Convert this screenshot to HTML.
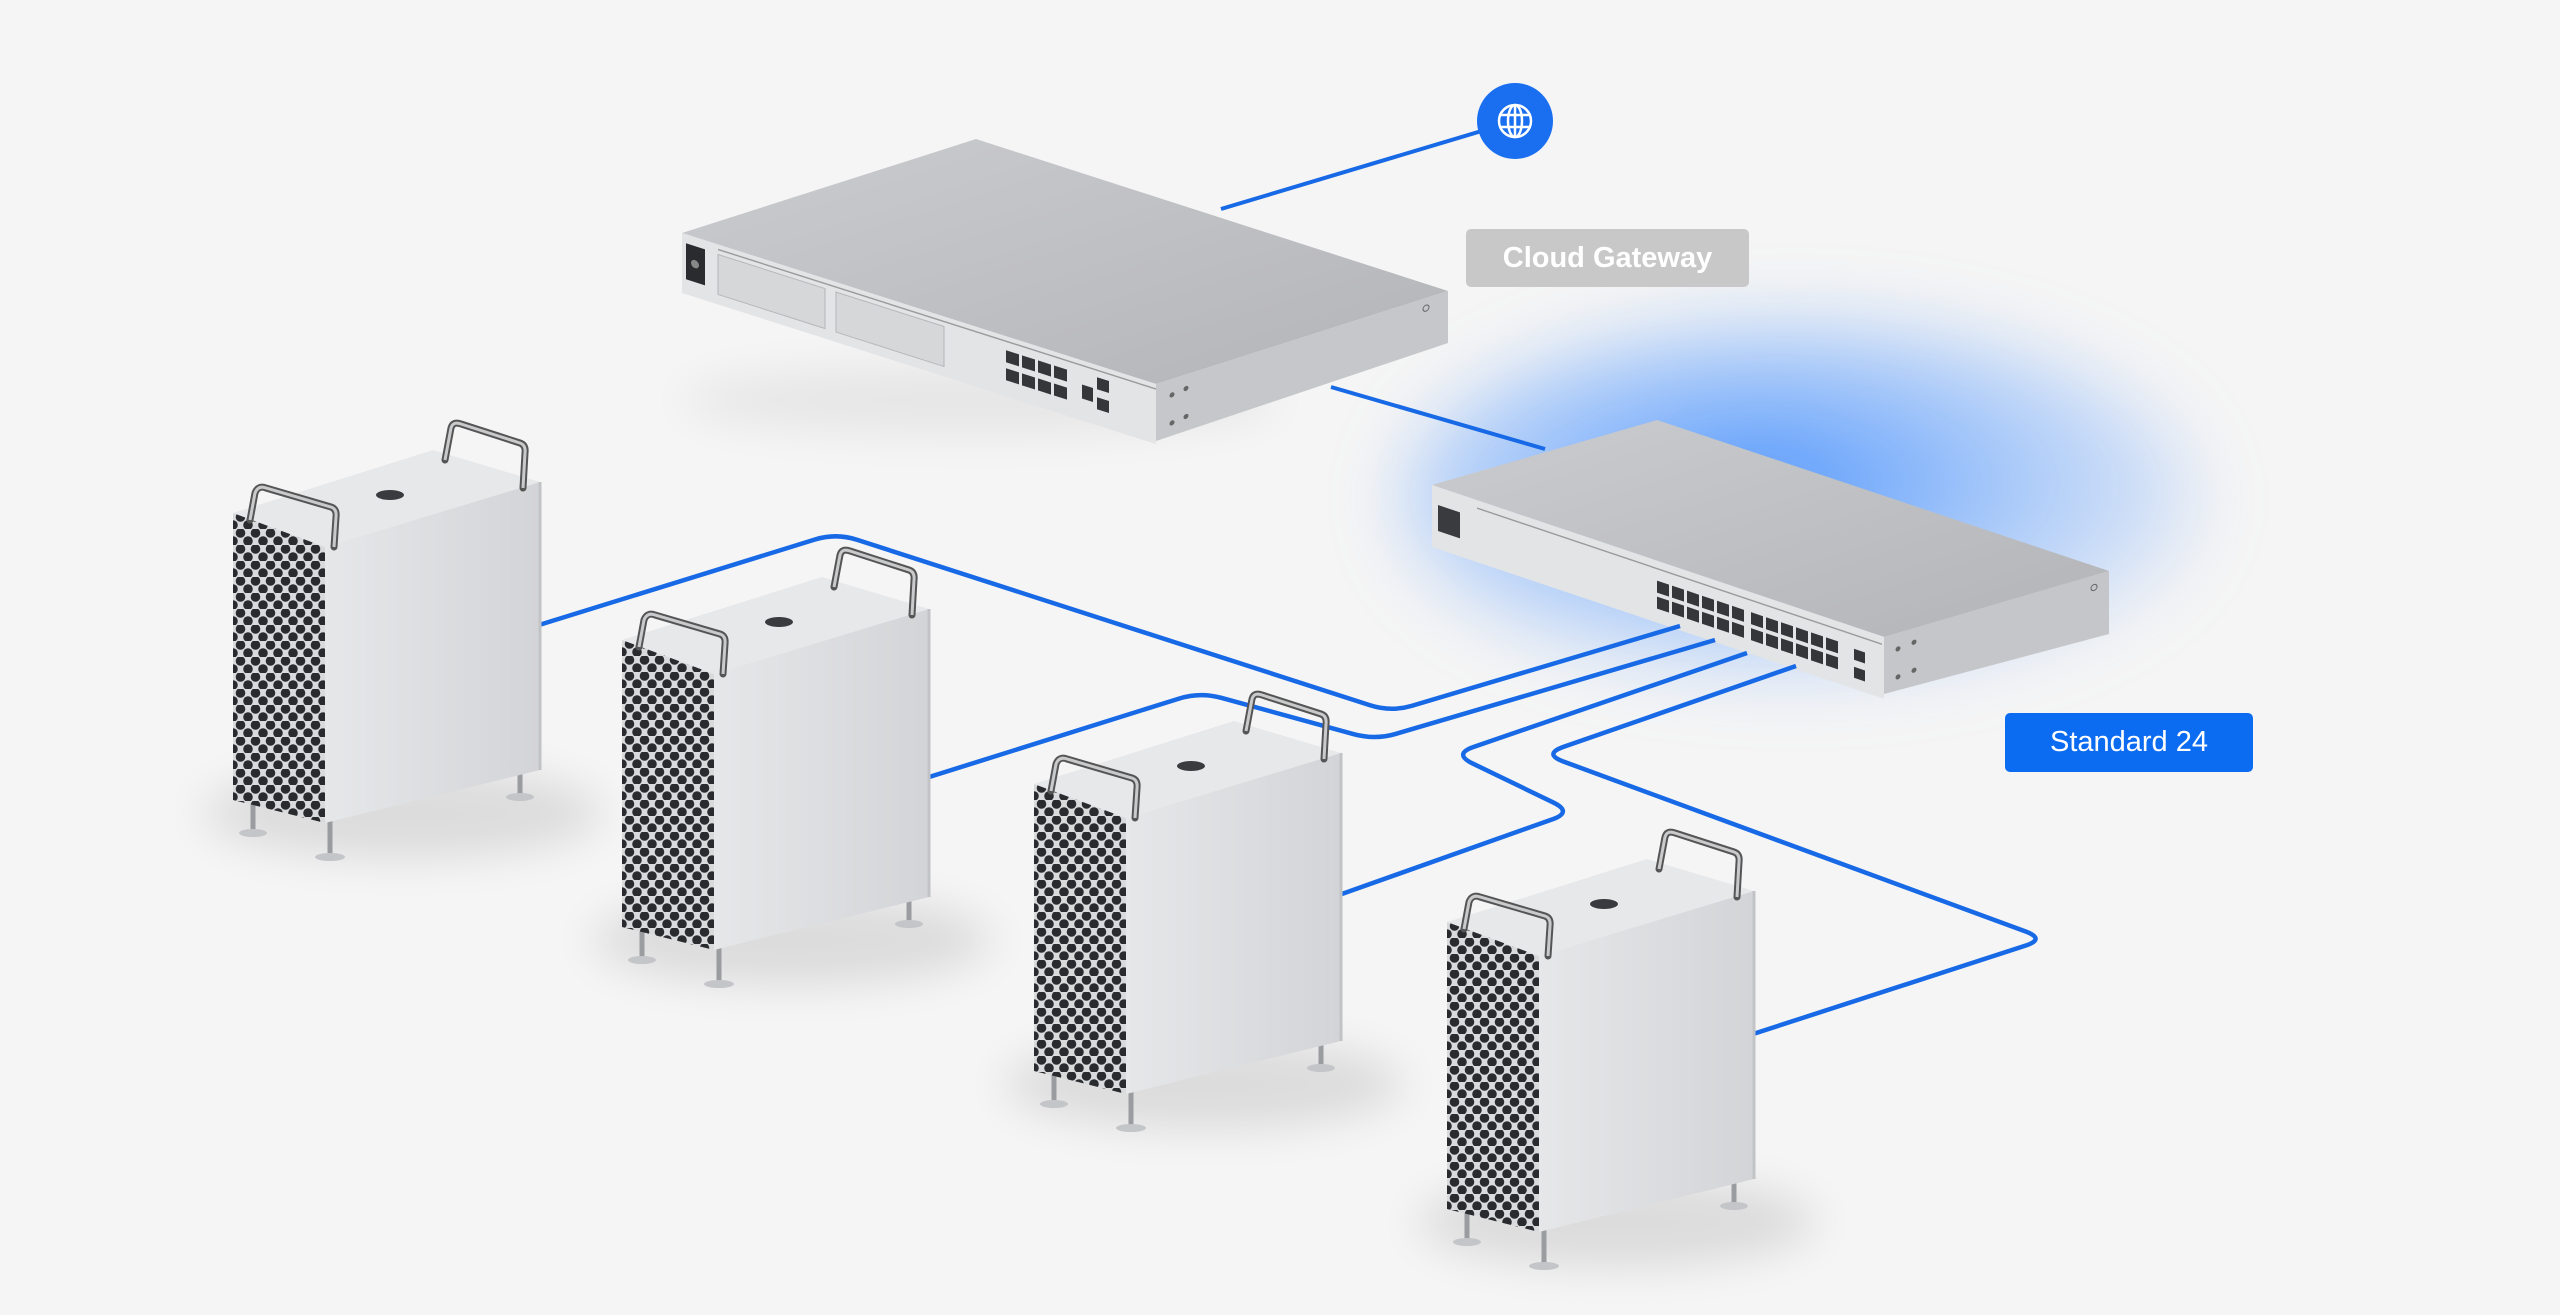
<!DOCTYPE html>
<html><head><meta charset="utf-8">
<style>
html,body{margin:0;padding:0;}
body{width:2560px;height:1315px;overflow:hidden;background:#f5f5f5;position:relative;font-family:"Liberation Sans",sans-serif;}
.glow{position:absolute;left:1400px;top:320px;width:800px;height:360px;border-radius:50%;background:radial-gradient(ellipse at 45% 45%,rgba(30,120,255,0.75) 0%,rgba(70,145,255,0.45) 40%,rgba(130,175,255,0.12) 75%,rgba(245,245,245,0) 100%);filter:blur(35px);}
.lbl{position:absolute;color:#fff;font-size:29px;font-weight:bold;text-align:center;border-radius:5px;}
</style></head><body>
<div class="glow"></div>
<svg width="2560" height="1315" style="position:absolute;left:0;top:0">
<defs>
<pattern id="holes" width="15" height="16" patternUnits="userSpaceOnUse">
<rect width="15" height="16" fill="#d9dadc"/>
<circle cx="7.5" cy="4" r="4.8" fill="#2a2b2e"/>
<circle cx="0" cy="12" r="4.8" fill="#2a2b2e"/>
<circle cx="15" cy="12" r="4.8" fill="#2a2b2e"/>
</pattern>
<linearGradient id="topg" x1="0" y1="0" x2="1" y2="1"><stop offset="0" stop-color="#cbcccf"/><stop offset="1" stop-color="#b3b4b8"/></linearGradient>
<linearGradient id="side" x1="0" y1="0" x2="1" y2="0"><stop offset="0" stop-color="#e6e7e9"/><stop offset="1" stop-color="#d3d4d7"/></linearGradient>
<filter id="sh" x="-50%" y="-50%" width="200%" height="200%"><feGaussianBlur stdDeviation="22"/></filter>
<g id="mac">
<ellipse cx="170" cy="300" rx="200" ry="45" fill="#000" opacity="0.10" filter="url(#sh)"/>
<g stroke="#9a9ca0" stroke-width="5" stroke-linecap="round">
<line x1="20" y1="285" x2="20" y2="318"/><line x1="97" y1="305" x2="97" y2="342"/><line x1="287" y1="255" x2="287" y2="282"/>
</g>
<ellipse cx="20" cy="320" rx="14" ry="4" fill="#c4c5c8"/><ellipse cx="97" cy="344" rx="15" ry="4" fill="#c4c5c8"/><ellipse cx="287" cy="284" rx="14" ry="4" fill="#c4c5c8"/>
<polygon points="0,0 200,-63 307,-31 92,34" fill="#e7e8ea"/>
<polygon points="92,34 307,-31 307,257 92,310" fill="url(#side)"/>
<polygon points="0,0 92,34 92,310 0,287" fill="url(#holes)"/>
<line x1="307" y1="-31" x2="307" y2="257" stroke="#c2c3c6" stroke-width="3"/>
<ellipse cx="157" cy="-18" rx="14" ry="5" fill="#3a3b3e"/>
<path d="M212,-53 L218,-85 Q220,-92 228,-89 L287,-70 Q293,-68 292,-60 L290,-25" fill="none" stroke="#555" stroke-width="7" stroke-linecap="round"/>
<path d="M212,-53 L218,-85 Q220,-92 228,-89 L287,-70 Q293,-68 292,-60 L290,-25" fill="none" stroke="#c9cacc" stroke-width="3"/>
<path d="M17,7 L22,-20 Q25,-28 33,-25 L98,-6 Q104,-4 103,4 L101,34" fill="none" stroke="#555" stroke-width="7" stroke-linecap="round"/>
<path d="M17,7 L22,-20 Q25,-28 33,-25 L98,-6 Q104,-4 103,4 L101,34" fill="none" stroke="#c9cacc" stroke-width="3"/>
</g>
</defs>

<ellipse cx="980" cy="400" rx="300" ry="35" fill="#000" opacity="0.06" filter="url(#sh)"/>

<line x1="1515" y1="121" x2="1221" y2="209" stroke="#1769e6" stroke-width="4"/>
<circle cx="1515" cy="121" r="38" fill="#1a6ff0"/>
<g fill="none" stroke="#fff" stroke-width="2.5">
<circle cx="1515" cy="121" r="16"/><ellipse cx="1515" cy="121" rx="7" ry="16"/>
<line x1="1499" y1="115" x2="1531" y2="115"/><line x1="1499" y1="127" x2="1531" y2="127"/><line x1="1515" y1="105" x2="1515" y2="137"/>
</g>

<line x1="1331" y1="387" x2="1545" y2="449" stroke="#1769e6" stroke-width="4"/>

<polygon points="682,233 976,139 1448,291 1156,384" fill="url(#topg)"/>
<polygon points="1156,384 1448,291 1448,343 1156,441" fill="#c6c7ca"/>
<g transform="matrix(1,0.3186,0,1,682,233)">
<rect x="0" y="0" width="474" height="60" fill="#e3e4e6"/>
<rect x="4" y="9" width="19" height="36" fill="#2a2b2e"/><circle cx="13" cy="27" r="4" fill="#888"/>
<rect x="36" y="10" width="107" height="40" fill="#d6d7d9" stroke="#b5b6b9"/>
<rect x="154" y="10" width="108" height="40" fill="#d6d7d9" stroke="#b5b6b9"/>
<g fill="#35363a">
<rect x="324" y="14" width="13" height="12"/><rect x="340" y="14" width="13" height="12"/><rect x="356" y="14" width="13" height="12"/><rect x="372" y="14" width="13" height="12"/>
<rect x="324" y="32" width="13" height="12"/><rect x="340" y="32" width="13" height="12"/><rect x="356" y="32" width="13" height="12"/><rect x="372" y="32" width="13" height="12"/>
<rect x="400" y="24" width="11" height="14"/><rect x="415" y="12" width="12" height="12"/><rect x="415" y="32" width="12" height="12"/>
</g>
<line x1="36" y1="5" x2="474" y2="5" stroke="#555" stroke-width="1.5" opacity="0.5"/>
</g>
<g transform="matrix(1,-0.318,0,1,1156,384)"><circle cx="16" cy="16" r="2.5" fill="#666"/><circle cx="16" cy="44" r="2.5" fill="#666"/><circle cx="30" cy="14" r="2.5" fill="#666"/><circle cx="30" cy="42" r="2.5" fill="#666"/><circle cx="270" cy="10" r="3" fill="none" stroke="#666"/></g>

<polygon points="1432,485 1657,420 2109,571 1884,637" fill="url(#topg)"/>
<polygon points="1884,637 2109,571 2109,634 1884,694" fill="#c5c6c9"/>
<g transform="matrix(1,0.336,0,1,1432,485)">
<rect x="0" y="0" width="452" height="62" fill="#e3e4e6"/>
<rect x="6" y="18" width="22" height="26" fill="#3a3b3e"/>
<line x1="45" y1="8" x2="450" y2="8" stroke="#555" stroke-width="1.5" opacity="0.5"/>
<g fill="#35363a" id="prow">
<rect x="225" y="20" width="12" height="12"/><rect x="240" y="20" width="12" height="12"/><rect x="255" y="20" width="12" height="12"/><rect x="270" y="20" width="12" height="12"/><rect x="285" y="20" width="12" height="12"/><rect x="300" y="20" width="12" height="12"/>
<rect x="319" y="20" width="12" height="12"/><rect x="334" y="20" width="12" height="12"/><rect x="349" y="20" width="12" height="12"/><rect x="364" y="20" width="12" height="12"/><rect x="379" y="20" width="12" height="12"/><rect x="394" y="20" width="12" height="12"/>
</g>
<use href="#prow" y="16"/>
<rect x="422" y="22" width="11" height="11" fill="#35363a"/><rect x="422" y="40" width="11" height="11" fill="#35363a"/>
</g>
<g transform="matrix(1,-0.293,0,1,1884,637)"><circle cx="14" cy="16" r="2.5" fill="#666"/><circle cx="14" cy="44" r="2.5" fill="#666"/><circle cx="30" cy="14" r="2.5" fill="#666"/><circle cx="30" cy="42" r="2.5" fill="#666"/><circle cx="210" cy="12" r="3" fill="none" stroke="#666"/></g>

<g id="cables" fill="none" stroke="#1769e6" stroke-width="4.5"></g>

<use href="#mac" x="233" y="513"/>
<use href="#mac" x="622" y="640"/>
<use href="#mac" x="1034" y="784"/>
<use href="#mac" x="1447" y="922"/>
</svg>

<div class="lbl" style="left:1466px;top:229px;width:283px;height:58px;line-height:58px;background:#c8c8c8;">Cloud Gateway</div>
<div class="lbl" style="left:2005px;top:713px;width:248px;height:59px;line-height:59px;background:#0b6cf2;font-weight:normal;">Standard 24</div>

<script>
function rp(pts,r){var d="M"+pts[0][0]+","+pts[0][1];
for(var i=1;i<pts.length-1;i++){var p=pts[i],a=pts[i-1],b=pts[i+1];
var l1=Math.hypot(p[0]-a[0],p[1]-a[1]),l2=Math.hypot(b[0]-p[0],b[1]-p[1]);
var q1=[p[0]-(p[0]-a[0])*r/l1,p[1]-(p[1]-a[1])*r/l1],q2=[p[0]+(b[0]-p[0])*r/l2,p[1]+(b[1]-p[1])*r/l2];
d+=" L"+q1[0]+","+q1[1]+" Q"+p[0]+","+p[1]+" "+q2[0]+","+q2[1];}
var e=pts[pts.length-1];return d+" L"+e[0]+","+e[1];}
var C=[[[539,625],[836,533],[1391,712],[1680,626]],
[[926,778],[1200,692],[1375,740],[1715,640]],
[[1339,895],[1573,812],[1453,754],[1747,653]],
[[1750,1035],[2046,939],[1543,754],[1796,666]]];
var g=document.getElementById("cables");
C.forEach(function(c){var p=document.createElementNS("http://www.w3.org/2000/svg","path");p.setAttribute("d",rp(c,22));g.appendChild(p);});
</script>
</body></html>
